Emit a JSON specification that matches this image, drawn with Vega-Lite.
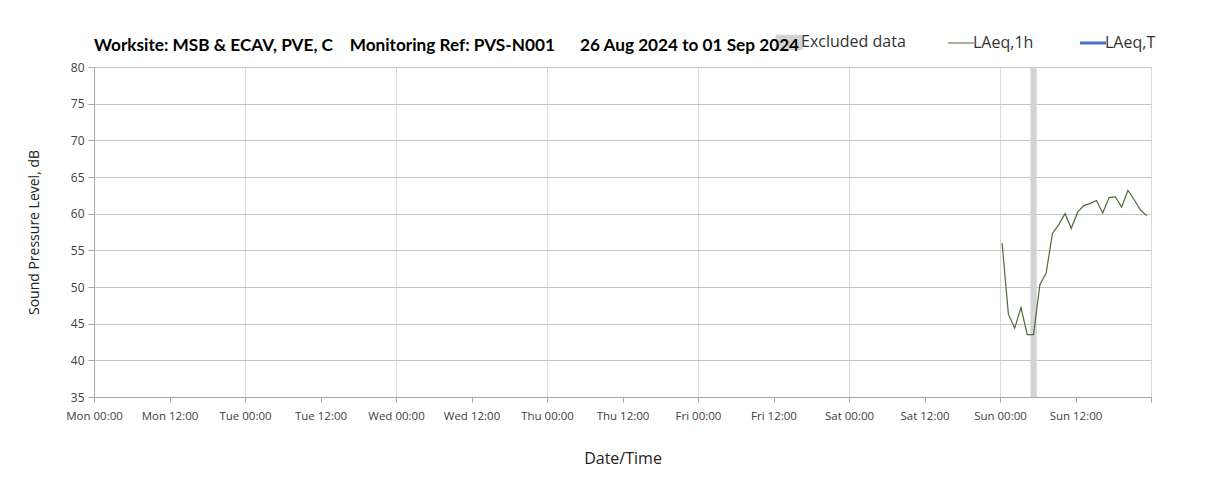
{
  "$schema": "https://vega.github.io/schema/vega-lite/v6.json",
  "width": 1057,
  "height": 330,
  "autosize": {"type": "none"},
  "padding": {"left": 94, "top": 67, "right": 57, "bottom": 93},
  "background": "white",
  "config": {"view": {"stroke": null}, "font": "Open Sans"},
  "title": {
    "text": "Worksite: MSB & ECAV, PVE, C\u00a0\u00a0\u00a0 Monitoring Ref: PVS-N001\u00a0\u00a0\u00a0\u00a0\u00a0 26 Aug 2024 to 01 Sep 2024",
    "anchor": "start",
    "frame": "group",
    "fontSize": 17.2,
    "fontWeight": "bold",
    "font": "Lato",
    "color": "#000000",
    "offset": -20
  },
  "datasets": {
    "excluded": [
      {"start": "2024-09-01T04:50:00", "end": "2024-09-01T05:50:00", "series": "Excluded data"}
    ],
    "laeq": [
      {"t": "2024-09-01T00:20:00", "v": 56.0, "series": "LAeq,1h"},
      {"t": "2024-09-01T01:20:00", "v": 46.3, "series": "LAeq,1h"},
      {"t": "2024-09-01T02:20:00", "v": 44.4, "series": "LAeq,1h"},
      {"t": "2024-09-01T03:20:00", "v": 47.2, "series": "LAeq,1h"},
      {"t": "2024-09-01T04:20:00", "v": 43.5, "series": "LAeq,1h"},
      {"t": "2024-09-01T05:20:00", "v": 43.5, "series": "LAeq,1h"},
      {"t": "2024-09-01T06:20:00", "v": 50.3, "series": "LAeq,1h"},
      {"t": "2024-09-01T07:20:00", "v": 51.9, "series": "LAeq,1h"},
      {"t": "2024-09-01T08:20:00", "v": 57.3, "series": "LAeq,1h"},
      {"t": "2024-09-01T09:20:00", "v": 58.5, "series": "LAeq,1h"},
      {"t": "2024-09-01T10:20:00", "v": 60.0, "series": "LAeq,1h"},
      {"t": "2024-09-01T11:20:00", "v": 58.0, "series": "LAeq,1h"},
      {"t": "2024-09-01T12:20:00", "v": 60.2, "series": "LAeq,1h"},
      {"t": "2024-09-01T13:20:00", "v": 61.1, "series": "LAeq,1h"},
      {"t": "2024-09-01T14:20:00", "v": 61.4, "series": "LAeq,1h"},
      {"t": "2024-09-01T15:20:00", "v": 61.8, "series": "LAeq,1h"},
      {"t": "2024-09-01T16:20:00", "v": 60.1, "series": "LAeq,1h"},
      {"t": "2024-09-01T17:20:00", "v": 62.2, "series": "LAeq,1h"},
      {"t": "2024-09-01T18:20:00", "v": 62.3, "series": "LAeq,1h"},
      {"t": "2024-09-01T19:20:00", "v": 60.9, "series": "LAeq,1h"},
      {"t": "2024-09-01T20:20:00", "v": 63.2, "series": "LAeq,1h"},
      {"t": "2024-09-01T21:20:00", "v": 61.9, "series": "LAeq,1h"},
      {"t": "2024-09-01T22:20:00", "v": 60.5, "series": "LAeq,1h"},
      {"t": "2024-09-01T23:20:00", "v": 59.7, "series": "LAeq,1h"}
    ]
  },
  "layer": [
    {
      "data": {"name": "excluded"},
      "mark": {"type": "rect", "opacity": 1},
      "encoding": {
        "x": {
          "field": "start",
          "type": "temporal",
          "scale": {"domain": [{"year": 2024, "month": 8, "date": 26, "hours": 0}, {"year": 2024, "month": 9, "date": 2, "hours": 0}]},
          "axis": {
            "title": "Date/Time",
            "titleFontSize": 16,
            "titleFontWeight": "normal",
            "titleColor": "#222222",
            "titlePadding": 29,
            "format": "%a %H:%M",
            "values": [
              {"year": 2024, "month": 8, "date": 26, "hours": 0},
              {"year": 2024, "month": 8, "date": 26, "hours": 12},
              {"year": 2024, "month": 8, "date": 27, "hours": 0},
              {"year": 2024, "month": 8, "date": 27, "hours": 12},
              {"year": 2024, "month": 8, "date": 28, "hours": 0},
              {"year": 2024, "month": 8, "date": 28, "hours": 12},
              {"year": 2024, "month": 8, "date": 29, "hours": 0},
              {"year": 2024, "month": 8, "date": 29, "hours": 12},
              {"year": 2024, "month": 8, "date": 30, "hours": 0},
              {"year": 2024, "month": 8, "date": 30, "hours": 12},
              {"year": 2024, "month": 8, "date": 31, "hours": 0},
              {"year": 2024, "month": 8, "date": 31, "hours": 12},
              {"year": 2024, "month": 9, "date": 1, "hours": 0},
              {"year": 2024, "month": 9, "date": 1, "hours": 12},
              {"year": 2024, "month": 9, "date": 2, "hours": 0}
            ],
            "labelExpr": "month(datum.value) === 8 && date(datum.value) === 2 ? '' : datum.label",
            "labelOverlap": false,
            "labelFlush": false,
            "labelFontSize": 11.5,
            "labelColor": "#404040",
            "labelPadding": 8,
            "tickColor": "#a6a6a6",
            "tickSize": 5,
            "domainColor": "#a6a6a6",
            "grid": true,
            "gridColor": "#d9d9d9",
            "gridOpacity": {"condition": {"test": "hours(datum.value) === 0", "value": 1}, "value": 0}
          }
        },
        "x2": {"field": "end"},
        "color": {
          "field": "series",
          "type": "nominal",
          "scale": {"domain": ["Excluded data", "LAeq,1h", "LAeq,T"], "range": ["#d3d3d3", "#4f6b3a", "#4472c4"]},
          "legend": {
            "orient": "none",
            "legendX": 687,
            "legendY": -33,
            "direction": "horizontal",
            "title": null,
            "labelFontSize": 16,
            "labelFont": "Open Sans",
            "labelColor": "#333333",
            "symbolSize": 676,
            "columnPadding": 40,
            "labelOffset": 4,
            "encode": {
              "symbols": {
                "update": {
                  "shape": {"signal": "datum.value === 'Excluded data' ? 'M-1,-0.55H1V0.55H-1Z' : 'stroke'"},
                  "fill": {"signal": "datum.value === 'Excluded data' ? '#d3d3d3' : 'transparent'"},
                  "stroke": {"signal": "datum.value === 'Excluded data' ? 'transparent' : (datum.value === 'LAeq,1h' ? '#4f6b3a' : '#4472c4')"},
                  "strokeWidth": {"signal": "datum.value === 'LAeq,T' ? 3 : 1"},
                  "opacity": {"value": 1}
                }
              }
            }
          }
        }
      }
    },
    {
      "data": {"name": "laeq"},
      "mark": {"type": "line", "strokeWidth": 1.2},
      "encoding": {
        "x": {"field": "t", "type": "temporal"},
        "y": {
          "field": "v",
          "type": "quantitative",
          "scale": {"domain": [35, 80], "nice": false, "zero": false},
          "axis": {
            "title": "Sound Pressure Level, dB",
            "titleFontSize": 14,
            "titleFontWeight": "normal",
            "titleColor": "#222222",
            "titlePadding": 29,
            "values": [35, 40, 45, 50, 55, 60, 65, 70, 75, 80],
            "labelFontSize": 12,
            "labelColor": "#404040",
            "labelPadding": 4,
            "tickColor": "#a6a6a6",
            "tickSize": 6,
            "domainColor": "#a6a6a6",
            "gridColor": "#c4c4c4"
          }
        },
        "color": {
          "field": "series",
          "type": "nominal",
          "legend": {
            "orient": "none",
            "legendX": 687,
            "legendY": -33,
            "direction": "horizontal",
            "title": null,
            "labelFontSize": 16,
            "labelFont": "Open Sans",
            "labelColor": "#333333",
            "symbolSize": 676,
            "columnPadding": 40,
            "labelOffset": 4,
            "encode": {
              "symbols": {
                "update": {
                  "shape": {"signal": "datum.value === 'Excluded data' ? 'M-1,-0.55H1V0.55H-1Z' : 'stroke'"},
                  "fill": {"signal": "datum.value === 'Excluded data' ? '#d3d3d3' : 'transparent'"},
                  "stroke": {"signal": "datum.value === 'Excluded data' ? 'transparent' : (datum.value === 'LAeq,1h' ? '#4f6b3a' : '#4472c4')"},
                  "strokeWidth": {"signal": "datum.value === 'LAeq,T' ? 3 : 1"},
                  "opacity": {"value": 1}
                }
              }
            }
          }
        }
      }
    }
  ]
}
